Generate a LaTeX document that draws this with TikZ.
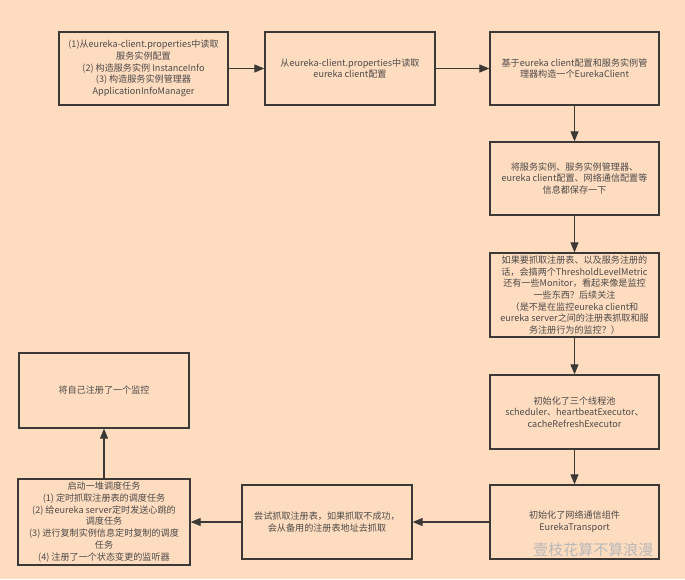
\documentclass[tikz,border=0pt]{standalone}
\usepackage{fontspec}
\setmainfont{Noto Sans CJK SC}
\usetikzlibrary{arrows.meta}
\definecolor{bgpeach}{HTML}{FDDCC0}
\definecolor{boxline}{HTML}{3C3836}
\definecolor{txt}{HTML}{4E4A48}
\tikzset{
  stepbox/.style={draw=boxline, line width=1.3pt, fill=bgpeach, text=txt,
    align=center, font=\fontsize{9.1}{11.7}\selectfont, inner sep=0pt},
  flow/.style={draw=boxline, line width=1.1pt, -{Triangle[length=10pt,width=8pt]}},
}
\begin{document}
\begin{tikzpicture}[x=1pt,y=-1pt]
\fill[bgpeach] (0,0) rectangle (685,579);
\useasboundingbox (0,0) rectangle (685,579);

% box helper: corners given as pixel positions
\newcommand{\flowbox}[6]{%
  \node[stepbox, minimum width=#4-#2, minimum height=#5-#3] (#1) at ({(#2+#4)/2},{(#3+#5)/2}) {#6};}

\flowbox{cfg}{59}{32}{228}{105}{(1)从eureka-client.properties中读取\\服务实例配置\\(2) 构造服务实例 InstanceInfo\\(3) 构造服务实例管理器\\ApplicationInfoManager}
\flowbox{read}{265}{32}{435}{105}{从eureka-client.properties中读取\\eureka client配置}
\flowbox{build}{490}{32}{659}{105}{基于eureka client配置和服务实例管\\理器构造一个EurekaClient}
\flowbox{save}{490}{142}{659}{215}{将服务实例、服务实例管理器、\\eureka client配置、网络通信配置等\\信息都保存一下}
\flowbox{metric}{490}{253}{659}{337}{如果要抓取注册表、以及服务注册的\\话，会搞两个ThresholdLevelMetric\\还有一些Monitor，看起来像是监控\\一些东西？后续关注\\（是不是在监控eureka client和\\eureka server之间的注册表抓取和服\\务注册行为的监控？）}
\flowbox{pool}{490}{375}{659}{449}{初始化了三个线程池\\scheduler、heartbeatExecutor、\\cacheRefreshExecutor}
\flowbox{transport}{490}{485}{659}{559}{初始化了网络通信组件\\EurekaTransport}
\flowbox{fetch}{242}{485}{412}{559}{尝试抓取注册表，如果抓取不成功，\\会从备用的注册表地址去抓取}
\flowbox{tasks}{18}{479}{190}{565}{启动一堆调度任务\\(1) 定时抓取注册表的调度任务\\(2) 给eureka server定时发送心跳的\\调度任务\\(3) 进行复制实例信息定时复制的调度\\任务\\(4) 注册了一个状态变更的监听器}
\flowbox{monitor}{19}{353}{189}{428}{将自己注册了一个监控}

\draw[flow] (cfg) -- (read);
\draw[flow] (read) -- (build);
\draw[flow] (build) -- (save);
\draw[flow] (save) -- (metric);
\draw[flow] (metric) -- (pool);
\draw[flow] (pool) -- (transport);
\draw[flow] (transport) -- (fetch);
\draw[flow] (fetch.west) -- (tasks.east |- fetch.west);
\draw[flow] (tasks.north -| monitor.south) -- (monitor.south);

% account watermark
\node[text=gray!55!white, font=\fontsize{15}{15}\selectfont, anchor=east] (mark) at (657,550) {壹枝花算不算浪漫};
\end{tikzpicture}
\end{document}
